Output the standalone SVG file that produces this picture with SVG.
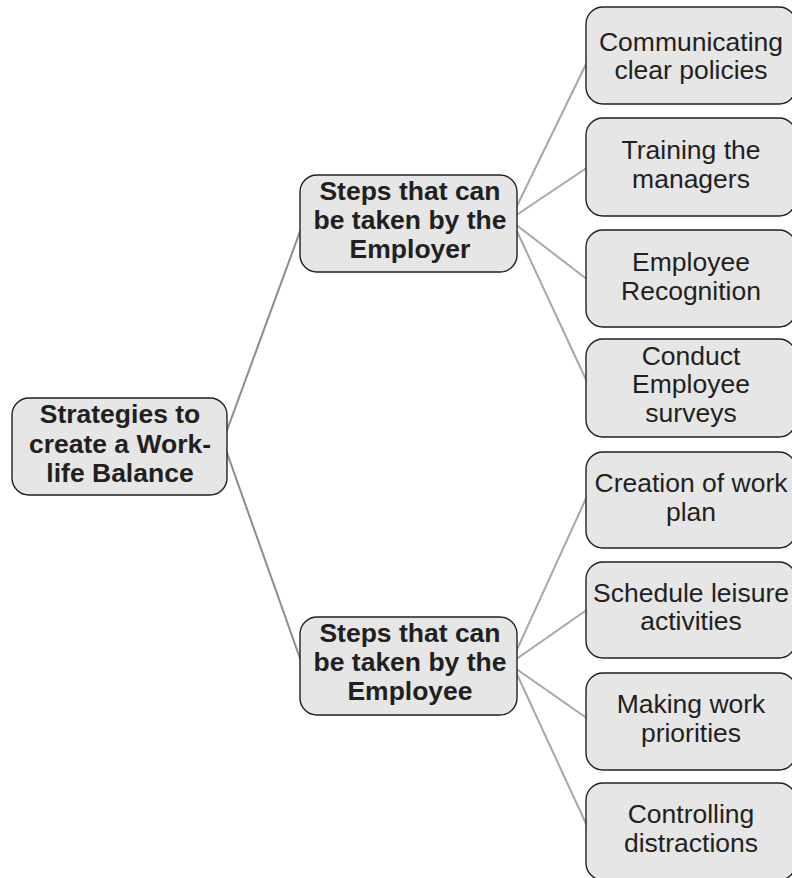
<svg xmlns="http://www.w3.org/2000/svg" width="792" height="878" viewBox="0 0 792 878">
  <style>
    .box { fill: #e6e6e7; stroke: #231f20; stroke-width: 1.4; }
    .link { stroke: #a7a7a7; stroke-width: 2; fill: none; }
    .link-main { stroke: #8c8c8c; stroke-width: 2; fill: none; }
    .t { font-family: "Liberation Sans", Arial, sans-serif; fill: #231f20; text-anchor: middle; }
    .bold { font-weight: bold; font-size: 26.5px; }
    .reg { font-size: 26.5px; }
  </style>
  <rect width="792" height="878" fill="#ffffff"/>

  <g id="connectors">
    <line class="link-main" x1="226" y1="433" x2="302" y2="226"/>
    <line class="link-main" x1="226" y1="450" x2="302" y2="664"/>
    <line class="link" x1="515" y1="210" x2="588" y2="60"/>
    <line class="link" x1="515" y1="216" x2="588" y2="167"/>
    <line class="link" x1="515" y1="224" x2="588" y2="280"/>
    <line class="link" x1="515" y1="227" x2="588" y2="384"/>
    <line class="link" x1="515" y1="654" x2="588" y2="494"/>
    <line class="link" x1="515" y1="660" x2="588" y2="609"/>
    <line class="link" x1="515" y1="668" x2="588" y2="719"/>
    <line class="link" x1="515" y1="670" x2="588" y2="828"/>
  </g>

  <g id="root">
    <rect class="box" x="12" y="398" width="215" height="97" rx="17"/>
    <text class="t bold" x="120" y="423">Strategies to</text>
    <text class="t bold" x="120" y="453">create a Work-</text>
    <text class="t bold" x="120" y="482">life Balance</text>
  </g>

  <g id="employer">
    <rect class="box" x="300" y="175" width="217" height="97" rx="17"/>
    <text class="t bold" x="410" y="200">Steps that can</text>
    <text class="t bold" x="410" y="229">be taken by the</text>
    <text class="t bold" x="410" y="258">Employer</text>
  </g>

  <g id="employee">
    <rect class="box" x="300" y="617" width="217" height="98" rx="17"/>
    <text class="t bold" x="410" y="642">Steps that can</text>
    <text class="t bold" x="410" y="671">be taken by the</text>
    <text class="t bold" x="410" y="700">Employee</text>
  </g>

  <g id="communicating">
    <rect class="box" x="586" y="7" width="210" height="97" rx="17"/>
    <text class="t reg" x="691" y="51">Communicating</text>
    <text class="t reg" x="691" y="79">clear policies</text>
  </g>

  <g id="training">
    <rect class="box" x="586" y="118" width="210" height="98" rx="17"/>
    <text class="t reg" x="691" y="159">Training the</text>
    <text class="t reg" x="691" y="188">managers</text>
  </g>

  <g id="recognition">
    <rect class="box" x="586" y="230" width="210" height="97" rx="17"/>
    <text class="t reg" x="691" y="271">Employee</text>
    <text class="t reg" x="691" y="300">Recognition</text>
  </g>

  <g id="surveys">
    <rect class="box" x="586" y="339" width="210" height="98" rx="17"/>
    <text class="t reg" x="691" y="365">Conduct</text>
    <text class="t reg" x="691" y="393">Employee</text>
    <text class="t reg" x="691" y="422">surveys</text>
  </g>

  <g id="work-plan">
    <rect class="box" x="586" y="452" width="210" height="96" rx="17"/>
    <text class="t reg" x="691" y="492">Creation of work</text>
    <text class="t reg" x="691" y="521">plan</text>
  </g>

  <g id="leisure">
    <rect class="box" x="586" y="562" width="210" height="96" rx="17"/>
    <text class="t reg" x="691" y="602">Schedule leisure</text>
    <text class="t reg" x="691" y="630">activities</text>
  </g>

  <g id="priorities">
    <rect class="box" x="586" y="673" width="210" height="97" rx="17"/>
    <text class="t reg" x="691" y="713">Making work</text>
    <text class="t reg" x="691" y="742">priorities</text>
  </g>

  <g id="distractions">
    <rect class="box" x="586" y="783" width="210" height="97" rx="17"/>
    <text class="t reg" x="691" y="823">Controlling</text>
    <text class="t reg" x="691" y="852">distractions</text>
  </g>
</svg>
